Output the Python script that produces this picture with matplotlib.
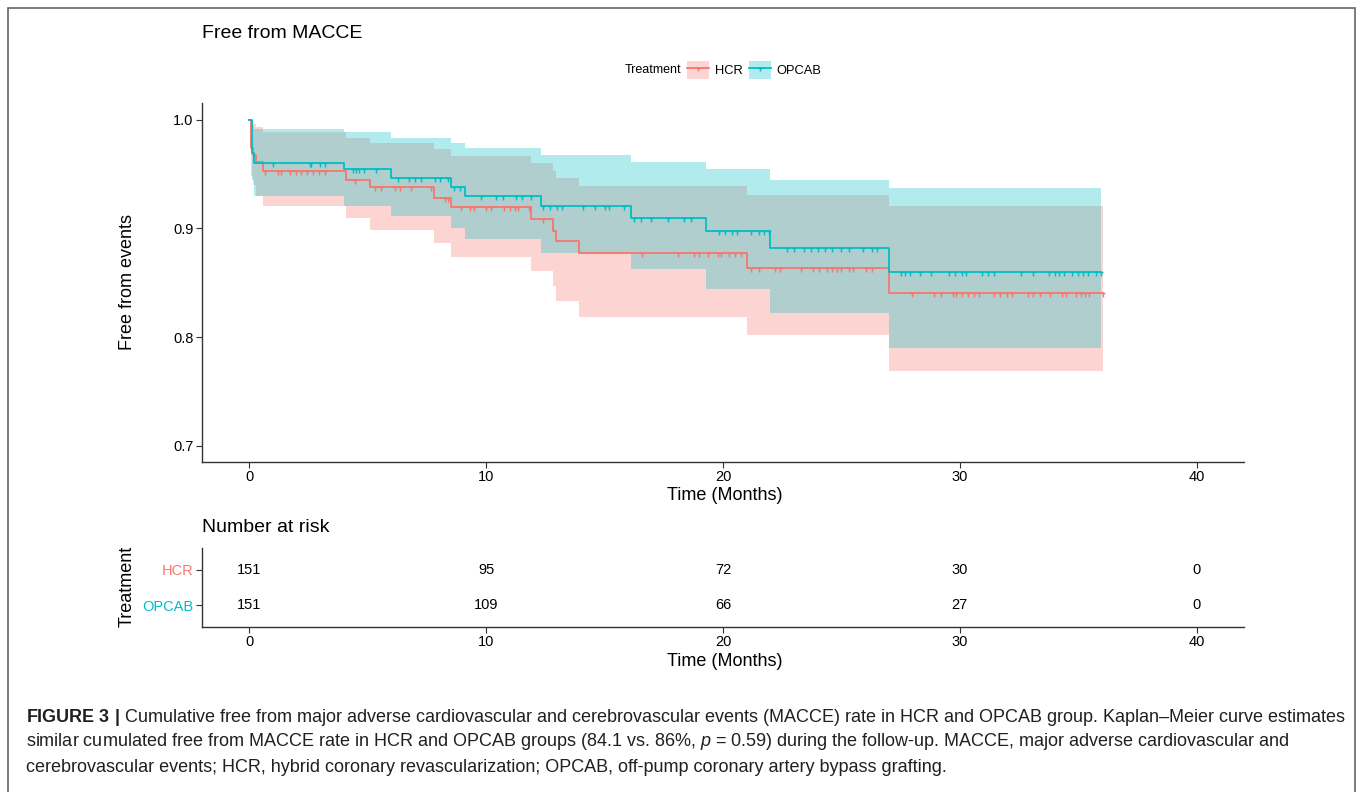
import numpy as np
import matplotlib
matplotlib.use("Agg")
import matplotlib.pyplot as plt
from matplotlib.patches import Patch, Rectangle
from matplotlib.lines import Line2D
from matplotlib.path import Path

plt.rcParams['font.family'] = ['Liberation Sans', 'DejaVu Sans']
plt.rcParams['mathtext.fontset'] = 'custom'
plt.rcParams['mathtext.rm'] = 'Liberation Sans'
plt.rcParams['mathtext.it'] = 'Liberation Sans:italic'
plt.rcParams['mathtext.bf'] = 'Liberation Sans:bold'

# ---- data ----
groups = ['HCR', 'OPCAB']
colors = {'HCR': '#F8766D', 'OPCAB': '#00BFC4'}

hcr_time = [0, 0.05, 0.15, 0.3, 0.58, 4.07, 5.1, 7.8, 8.5, 11.9, 12.84, 12.95, 13.93, 21.0, 27.0]
hcr_surv = [1.0, 0.974, 0.968, 0.961, 0.953, 0.945, 0.938, 0.928, 0.9195, 0.909, 0.898, 0.888, 0.877, 0.864, 0.841]
hcr_upper = [1.0, 0.998, 0.996, 0.993, 0.9886, 0.9837, 0.9785, 0.973, 0.9668, 0.9607, 0.953, 0.946, 0.939, 0.9306, 0.9207]
hcr_lower = [1.0, 0.948, 0.940, 0.930, 0.921, 0.910, 0.8985, 0.8862, 0.874, 0.861, 0.847, 0.833, 0.8186, 0.8023, 0.7687]
hcr_end = 36.05
hcr_censor = [0.65, 1.2, 1.35, 1.7, 1.95, 2.2, 2.45, 2.7, 2.95, 3.2, 4.45, 5.3, 5.57, 6.13, 6.34,
              6.84, 7.68, 8.24, 8.38, 8.95, 9.3, 9.5, 10.0, 10.2, 10.77, 11.0, 11.2, 11.33, 11.82,
              12.4, 16.6, 18.1, 18.78, 19.0, 19.35, 19.77, 19.9, 20.26, 20.5, 20.75, 21.18, 21.5,
              22.2, 22.4, 23.3, 23.78, 24.05, 24.4, 24.6, 24.8, 25.0, 25.3, 25.5, 26.03, 26.3,
              28.0, 28.9, 29.2, 29.7, 29.85, 30.1, 30.35, 30.6, 30.8, 31.45, 31.7, 32.0, 32.2,
              32.9, 33.1, 33.4, 33.8, 34.3, 34.5, 34.9, 35.1, 35.3, 35.45, 36.05]

op_time = [0, 0.1, 0.2, 4.0, 6.0, 8.5, 9.1, 12.3, 16.1, 19.3, 22.0, 27.0]
op_surv = [1.0, 0.9696, 0.9606, 0.9545, 0.9465, 0.938, 0.930, 0.9207, 0.910, 0.898, 0.882, 0.860]
op_upper = [1.0, 0.994, 0.992, 0.9886, 0.983, 0.979, 0.974, 0.968, 0.961, 0.9545, 0.945, 0.937]
op_lower = [1.0, 0.945, 0.930, 0.921, 0.9115, 0.900, 0.890, 0.8777, 0.8626, 0.844, 0.822, 0.790]
op_end = 35.95
op_censor = [1.0, 2.55, 2.6, 2.97, 3.18, 4.37, 4.5, 4.65, 4.86, 5.36, 6.27, 6.75, 7.0, 7.25, 7.82,
             8.03, 8.38, 8.65, 8.9, 9.79, 10.42, 10.7, 11.26, 11.5, 11.9, 12.4, 12.7, 13.0, 13.2,
             14.1, 14.6, 15.0, 15.2, 15.83, 16.25, 16.55, 16.96, 17.66, 18.36, 18.65, 19.83,
             20.1, 20.4, 20.6, 21.2, 21.5, 21.75, 21.95, 22.7, 23.0, 23.4, 23.7, 24.0, 24.3,
             24.6, 25.0, 25.3, 25.9, 26.3, 26.5, 27.5, 27.7, 27.9, 28.3, 28.8, 29.55, 29.8,
             30.1, 30.25, 30.95, 31.2, 31.45, 32.57, 33.1, 33.75, 34.0, 34.2, 34.4, 34.75,
             35.0, 35.2, 35.4, 35.75, 35.95]

risk_times = [0, 10, 20, 30, 40]
risk_hcr = [151, 95, 72, 30, 0]
risk_op = [151, 109, 66, 27, 0]

curves = {
    'HCR': (hcr_time, hcr_surv, hcr_lower, hcr_upper, hcr_end, hcr_censor),
    'OPCAB': (op_time, op_surv, op_lower, op_upper, op_end, op_censor),
}

# censor mark: small horizontal bar with a tick hanging below the curve
tick_mark = Path([(-0.6, 0), (0.6, 0), (0, 0), (0, -1)],
                 [Path.MOVETO, Path.LINETO, Path.MOVETO, Path.LINETO])

W, H = 1362, 792
fig = plt.figure(figsize=(W / 100, H / 100), dpi=100)

def fx(px):
    return px / W

def fy(py):
    return 1 - py / H

ax = fig.add_axes([fx(202), fy(462), fx(1244) - fx(202), fy(103) - fy(462)])
ax2 = fig.add_axes([fx(202), fy(627), fx(1244) - fx(202), fy(548) - fy(627)])

for g in groups:
    t, s, lo, up, end, cens = curves[g]
    tt = np.array(t + [end])
    ss = np.array(s + [s[-1]])
    ll = np.array(lo + [lo[-1]])
    uu = np.array(up + [up[-1]])
    c = colors[g]
    ax.fill_between(tt, ll, uu, step='post', color=c, alpha=0.3, lw=0)
    ax.step(tt, ss, where='post', color=c, lw=1.3)
    ct = np.array(cens)
    idx = np.searchsorted(tt[:-1], ct, side='right') - 1
    ax.plot(ct, ss[idx], ls='none', marker=tick_mark, ms=5.5, mew=1, mec=c, mfc='none')

for a in (ax, ax2):
    a.set_xlim(-2, 42)
    a.set_xticks(risk_times)
    for sp in ('top', 'right'):
        a.spines[sp].set_visible(False)
    for sp in ('left', 'bottom'):
        a.spines[sp].set_color('#333333')
        a.spines[sp].set_linewidth(1.0)
    a.tick_params(axis='both', colors='#333333', length=4, width=0.8, labelsize=10.5,
                  labelcolor='black', pad=2)

ax.set_ylim(0.685, 1.0155)
ax.set_yticks([0.7, 0.8, 0.9, 1.0])
ax.set_yticklabels(['0.7', '0.8', '0.9', '1.0'])

# risk table
ax2.set_ylim(0.4, 2.6)
ax2.set_yticks([2, 1])
ax2.set_yticklabels(groups)
for lab, g in zip(ax2.get_yticklabels(), groups):
    lab.set_color(colors[g])
    lab.set_fontsize(10.5)
for i, g in enumerate(groups):
    vals = risk_hcr if g == 'HCR' else risk_op
    for tx, v in zip(risk_times, vals):
        ax2.text(tx, 2 - i, str(v), ha='center', va='center', fontsize=10.5)

# titles and labels
fig.text(fx(202), fy(33), 'Free from MACCE', fontsize=14, ha='left', va='center')
fig.text(fx(127), fy(282), 'Free from events', fontsize=13, rotation=90, ha='center', va='center')
fig.text(fx(725), fy(495), 'Time (Months)', fontsize=13, ha='center', va='center')
fig.text(fx(202), fy(528), 'Number at risk', fontsize=14, ha='left', va='center')
fig.text(fx(127), fy(586), 'Treatment', fontsize=13, rotation=90, ha='center', va='center')
fig.text(fx(725), fy(661), 'Time (Months)', fontsize=13, ha='center', va='center')

# legend
fig.text(fx(681), fy(70), 'Treatment', fontsize=9, ha='right', va='center')
handles = []
for g in groups:
    handles.append((Patch(facecolor=colors[g], alpha=0.3, lw=0),
                    Line2D([], [], color=colors[g], lw=1.3, marker=tick_mark, ms=5,
                           mew=1, mec=colors[g], mfc='none', markevery=[1])))
fig.legend(handles=handles, labels=groups, ncol=2, loc='center left',
           bbox_to_anchor=(fx(687), fy(70)), frameon=False, fontsize=9.3,
           handlelength=1.7, handleheight=1.7, handletextpad=0.45, columnspacing=0.5,
           borderpad=0, borderaxespad=0)

# caption
cap1 = r'$\mathbf{FIGURE\ 3\ |}$ Cumulative free from major adverse cardiovascular and cerebrovascular events (MACCE) rate in HCR and OPCAB group. Kaplan–Meier curve estimates'
cap2 = r'similar cumulated free from MACCE rate in HCR and OPCAB groups (84.1 vs. 86%, $p$ = 0.59) during the follow-up. MACCE, major adverse cardiovascular and'
cap3 = 'cerebrovascular events; HCR, hybrid coronary revascularization; OPCAB, off-pump coronary artery bypass grafting.'
for txt, y in zip([cap1, cap2, cap3], [717, 742, 767]):
    fig.text(fx(26), fy(y), txt, fontsize=13, ha='left', va='center', color='#231f20')

# outer frame
fig.patches.append(Rectangle((fx(8), -0.01), fx(1355) - fx(8), fy(8) + 0.01,
                             transform=fig.transFigure, fill=False, ec='#666666', lw=1.2))

fig.savefig('out.png', dpi=100)
